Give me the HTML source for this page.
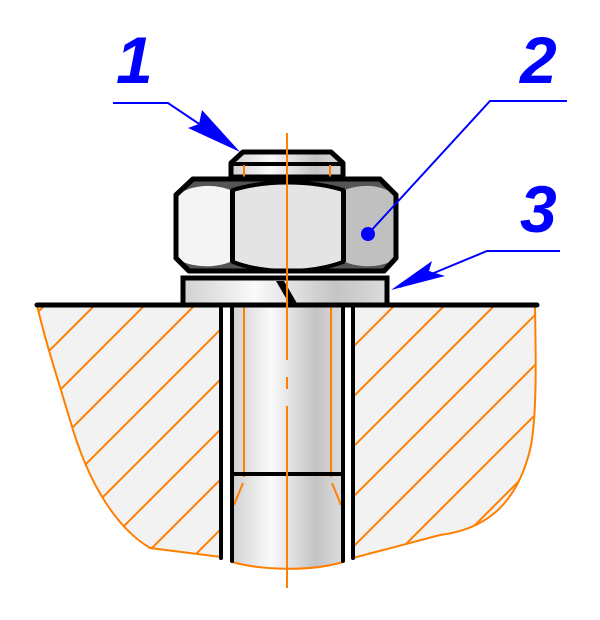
<!DOCTYPE html>
<html><head><style>html,body{margin:0;padding:0;background:#fff}svg{display:block}</style></head><body>
<svg width="600" height="620" viewBox="0 0 600 620" xmlns="http://www.w3.org/2000/svg">
<defs>
<linearGradient id="cyl" x1="0" x2="1" y1="0" y2="0">
<stop offset="0" stop-color="#d0d0d0"/><stop offset="0.35" stop-color="#fafafa"/><stop offset="0.75" stop-color="#c4c4c4"/><stop offset="1" stop-color="#dcdcdc"/>
</linearGradient>
<clipPath id="lc"><path d="M37,305 L221,305 L221,557 L150,548 C120,530 90,490 70,420 C55,370 45,340 37,305Z"/></clipPath>
<clipPath id="rc"><path d="M353,305 L535,305 C536,360 537,420 530,450 C515,510 480,530 440,535 L353,558Z"/></clipPath>
</defs>
<path d="M37,305 L221,305 L221,557 L150,548 C120,530 90,490 70,420 C55,370 45,340 37,305Z" fill="#f2f2f2" stroke="#ff7f00" stroke-width="2"/>
<path d="M353,305 L535,305 C536,360 537,420 530,450 C515,510 480,530 440,535 L353,558Z" fill="#f2f2f2" stroke="#ff7f00" stroke-width="2"/>
<g stroke="#ff7f00" stroke-width="2" clip-path="url(#lc)">
<line x1="-300" y1="600" x2="100" y2="200"/><line x1="-250" y1="600" x2="150" y2="200"/><line x1="-200" y1="600" x2="200" y2="200"/><line x1="-150" y1="600" x2="250" y2="200"/><line x1="-100" y1="600" x2="300" y2="200"/><line x1="-50" y1="600" x2="350" y2="200"/><line x1="0" y1="600" x2="400" y2="200"/><line x1="50" y1="600" x2="450" y2="200"/><line x1="100" y1="600" x2="500" y2="200"/><line x1="150" y1="600" x2="550" y2="200"/><line x1="200" y1="600" x2="600" y2="200"/>
</g>
<g stroke="#ff7f00" stroke-width="2" clip-path="url(#rc)">
<line x1="100" y1="600" x2="500" y2="200"/><line x1="150" y1="600" x2="550" y2="200"/><line x1="200" y1="600" x2="600" y2="200"/><line x1="250" y1="600" x2="650" y2="200"/><line x1="300" y1="600" x2="700" y2="200"/><line x1="350" y1="600" x2="750" y2="200"/><line x1="400" y1="600" x2="800" y2="200"/><line x1="450" y1="600" x2="850" y2="200"/><line x1="500" y1="600" x2="900" y2="200"/>
</g>
<path d="M232,305 L343,305 L343,562 C310,572 260,570 232,562Z" fill="url(#cyl)"/>
<path d="M232,562 C260,570 310,572 343,562" fill="none" stroke="#ff7f00" stroke-width="2"/>
<line x1="244" y1="305" x2="244" y2="477" stroke="#ff7f00" stroke-width="2"/>
<line x1="331" y1="305" x2="331" y2="477" stroke="#ff7f00" stroke-width="2"/>
<line x1="243" y1="483" x2="234" y2="505" stroke="#ff7f00" stroke-width="2"/>
<line x1="332" y1="483" x2="341" y2="505" stroke="#ff7f00" stroke-width="2"/>
<line x1="232" y1="474" x2="343" y2="474" stroke="#000" stroke-width="4"/>
<g stroke="#000" stroke-width="4" stroke-linecap="round">
<line x1="221" y1="305" x2="221" y2="558"/><line x1="232" y1="305" x2="232" y2="561"/>
<line x1="343" y1="305" x2="343" y2="561"/><line x1="353" y1="305" x2="353" y2="558"/>
</g>
<rect x="183" y="278" width="204" height="27" fill="url(#cyl)" stroke="#000" stroke-width="5"/>
<path d="M276,281 L290,305 L298,305 L284,281Z" fill="#000"/>
<path d="M231,177 L231,163 L243,152 L331,152 L343,163 L343,177Z" fill="url(#cyl)" stroke="#000" stroke-width="5" stroke-linejoin="round"/>
<line x1="231" y1="164" x2="343" y2="164" stroke="#000" stroke-width="4"/>
<line x1="244" y1="165" x2="244" y2="177" stroke="#ff7f00" stroke-width="2"/>
<line x1="330" y1="165" x2="330" y2="177" stroke="#ff7f00" stroke-width="2"/>
<path d="M176,195 L193,179 L380,179 L396,195 L396,258 L384,271 L189,271 L176,258Z" fill="#555" stroke="#000" stroke-width="5" stroke-linejoin="round"/>
<path d="M178,194 C195,184 215,184 230,190 L230,262 C215,268 195,268 178,260Z" fill="#f4f4f4"/>
<path d="M233,190 C265,180 310,180 343,190 L343,262 C310,274 265,274 233,262Z" fill="#e4e4e4" stroke="#000" stroke-width="4"/>
<path d="M345,190 C360,184 380,184 394,194 L394,260 C380,268 360,268 345,262Z" fill="#c0c0c0"/>
<line x1="232" y1="190" x2="232" y2="262" stroke="#000" stroke-width="4"/>
<line x1="344" y1="190" x2="344" y2="262" stroke="#000" stroke-width="4"/>
<path d="M176,195 L193,179 L380,179 L396,195 L396,258 L384,271 L189,271 L176,258Z" fill="none" stroke="#000" stroke-width="5" stroke-linejoin="round"/>
<line x1="37" y1="305" x2="537" y2="305" stroke="#000" stroke-width="5" stroke-linecap="round"/>
<g stroke="#ff7f00" stroke-width="2">
<line x1="287" y1="133" x2="287" y2="360"/>
<line x1="287" y1="377" x2="287" y2="389"/>
<line x1="287" y1="406" x2="287" y2="588"/>
</g>
<g stroke="#0000ff" stroke-width="2" fill="none">
<polyline points="113,103 168,103 235,148"/>
<polyline points="567,101 490,101 368,234"/>
<polyline points="560,251 487,251 400,287"/>
</g>
<path d="M240,152 L188,128 L199,124 L202,110Z" fill="#0000ff"/>
<path d="M391,290 L432,261 L429,271 L445,276Z" fill="#0000ff"/>
<circle cx="368" cy="234" r="7" fill="#0000ff"/>
<g fill="#0000ff" font-family="Liberation Sans, sans-serif" font-style="italic" font-weight="bold" font-size="66">
<text x="116" y="83">1</text>
<text x="520" y="83">2</text>
<text x="520" y="232">3</text>
</g>
</svg>
</body></html>
